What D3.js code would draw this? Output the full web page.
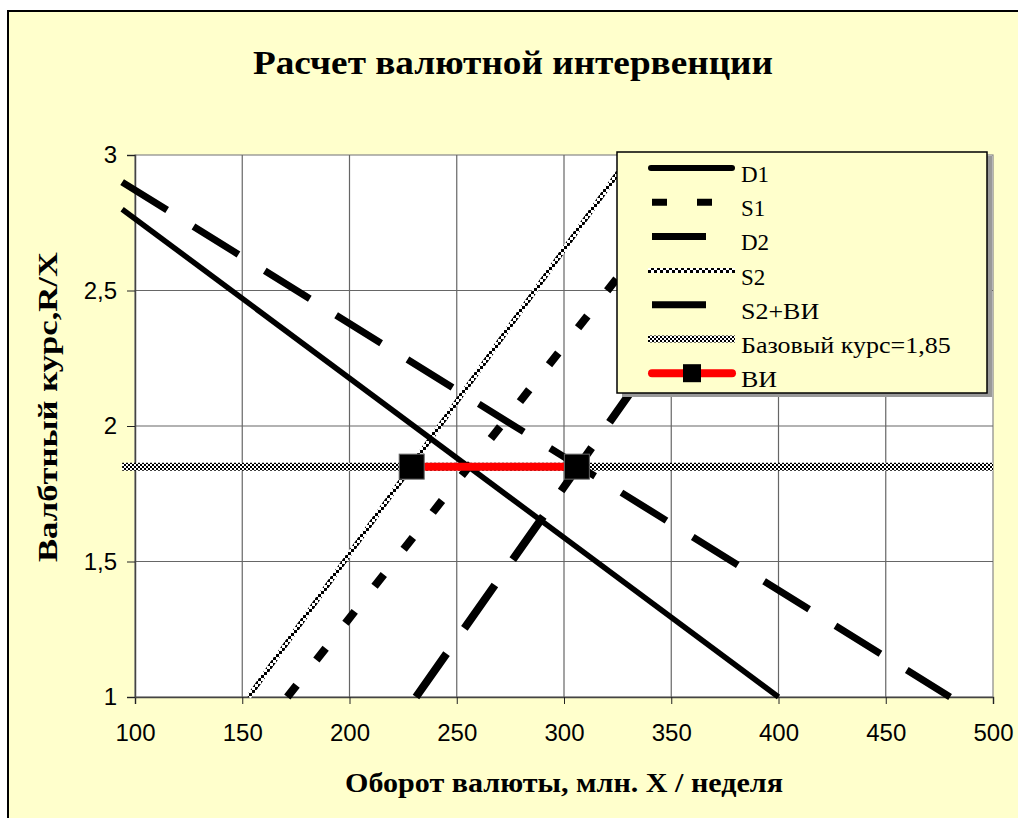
<!DOCTYPE html>
<html><head><meta charset="utf-8">
<script src="https://cdn.jsdelivr.net/npm/d3@7"></script>
<style>html,body{margin:0;padding:0;background:#fff;}svg{display:block;}</style>
</head><body>
<script>
// ---- data ----
const title = "Расчет валютной интервенции";
const xTitle = "Оборот валюты, млн. X / неделя";
const yTitle = "Валбтный курс,R/X";
const xTicks = [100,150,200,250,300,350,400,450,500];
const yTicks = [1,1.5,2,2.5,3];
const yTickLabels = ["1","1,5","2","2,5","3"];
const D1 = [[94,2.80],[400,1]];
const S1 = [[171,1],[370,3]];
const D2 = [[94,2.90],[480,1]];
const S2 = [[153,1],[331,3]];
const S2VI = [[231,1],[409,3]];
const BASE = [[94,1.85],[500,1.85]];
const VI = [[229,1.85],[306,1.85]];
const legendNames = ["D1","S1","D2","S2","S2+ВИ","Базовый курс=1,85","ВИ"];

const W=1018,H=818;
const svg=d3.select("body").append("svg").attr("width",W).attr("height",H);
const defs=svg.append("defs");
function checker(id,c){
  const p=defs.append("pattern").attr("id",id).attr("patternUnits","userSpaceOnUse").attr("width",2*c).attr("height",2*c);
  p.append("rect").attr("width",2*c).attr("height",2*c).attr("fill","#fff");
  p.append("rect").attr("width",c).attr("height",c).attr("fill","#000");
  p.append("rect").attr("x",c).attr("y",c).attr("width",c).attr("height",c).attr("fill","#000");
}
checker("chk",2);
checker("chk3",3);

svg.append("rect").attr("x",8).attr("y",11).attr("width",1040).attr("height",840)
  .attr("fill","#FFFFCC").attr("stroke","#000").attr("stroke-width",2);

const L=135,R=993,T=155,B=697;
const x=d3.scaleLinear().domain([100,500]).range([L,R]);
const y=d3.scaleLinear().domain([1,3]).range([B,T]);

svg.append("rect").attr("x",L).attr("y",T).attr("width",R-L).attr("height",B-T).attr("fill","#fff")
  .attr("stroke","#888").attr("stroke-width",1.2);
// grid
svg.append("g").selectAll("line").data(xTicks.slice(1,-1)).join("line")
  .attr("x1",d=>x(d)).attr("x2",d=>x(d)).attr("y1",T).attr("y2",B).attr("stroke","#666").attr("stroke-width",1.2);
svg.append("g").selectAll("line").data(yTicks.slice(1,-1)).join("line")
  .attr("y1",d=>y(d)).attr("y2",d=>y(d)).attr("x1",L).attr("x2",R).attr("stroke","#666").attr("stroke-width",1.2);

// axes
const xAxis=d3.axisBottom(x).tickValues(xTicks).tickSize(7).tickPadding(20).tickFormat(d3.format("d"));
const gx=svg.append("g").attr("transform",`translate(0,${B})`).call(xAxis);
gx.select(".domain").attr("stroke","#444").attr("stroke-width",1.5);
gx.selectAll(".tick line").attr("stroke","#222");
gx.selectAll("text").attr("font-family","'Liberation Sans',Arial,sans-serif").attr("font-size",24).attr("fill","#000");
const yAxis=d3.axisLeft(y).tickValues(yTicks).tickSize(8).tickPadding(10).tickFormat((d,i)=>yTickLabels[i]);
const gy=svg.append("g").attr("transform",`translate(${L},0)`).call(yAxis);
gy.select(".domain").attr("stroke","#444").attr("stroke-width",1.5);
gy.selectAll(".tick line").attr("stroke","#222");
gy.selectAll("text").attr("font-family","'Liberation Sans',Arial,sans-serif").attr("font-size",24).attr("fill","#000");

const line=d3.line().x(d=>x(d[0])).y(d=>y(d[1]));
const styles=[
  {data:BASE, stroke:"url(#chk)", w:8, dash:null, cap:"butt"},
  {data:S2, stroke:"url(#chk3)", w:5, dash:null, cap:"butt"},
  {data:D1, stroke:"#000", w:5.5, dash:null, cap:"butt"},
  {data:S1, stroke:"#000", w:8, dash:"15,32", cap:"butt"},
  {data:D2, stroke:"#000", w:7, dash:"53,31", cap:"butt"},
  {data:S2VI, stroke:"#000", w:8, dash:"53,31", cap:"butt"},
  {data:VI, stroke:"#ff0000", w:8, dash:null, cap:"butt"}
];
styles.forEach(s=>{
  svg.append("path").attr("d",line(s.data)).attr("fill","none").attr("stroke",s.stroke)
    .attr("stroke-width",s.w).attr("stroke-dasharray",s.dash).attr("stroke-linecap",s.cap);
});
svg.append("g").selectAll("rect").data(VI).join("rect")
  .attr("x",d=>x(d[0])-12.5).attr("y",d=>y(d[1])-12.5).attr("width",25).attr("height",25)
  .attr("fill","#000").attr("stroke","#666").attr("stroke-width",1);

// legend
const lg=svg.append("g");
lg.append("rect").attr("x",622).attr("y",156).attr("width",370).attr("height",241).attr("fill","#999");
lg.append("rect").attr("x",617).attr("y",152).attr("width",370).attr("height",241).attr("fill","#FFFFCC").attr("stroke","#000").attr("stroke-width",1.5);
const ly0=168,ldy=34.2;
const legStyles=[
  {stroke:"#000",w:6,dash:null,cap:"round",x1:651,x2:732},
  {stroke:"#000",w:7,dash:"15,30",cap:"butt",x1:652,x2:735},
  {stroke:"#000",w:7,dash:"54,40",cap:"butt",x1:652,x2:735},
  {stroke:"url(#chk3)",w:5,dash:null,cap:"butt",x1:648,x2:735},
  {stroke:"#000",w:7,dash:"54,40",cap:"butt",x1:652,x2:735},
  {stroke:"url(#chk)",w:7,dash:null,cap:"butt",x1:648,x2:735},
  {stroke:"#ff0000",w:8,dash:null,cap:"round",x1:652,x2:732}
];
legendNames.forEach((n,i)=>{
  const yy=ly0+i*ldy, s=legStyles[i];
  lg.append("line").attr("x1",s.x1).attr("x2",s.x2).attr("y1",yy).attr("y2",yy)
    .attr("stroke",s.stroke).attr("stroke-width",s.w).attr("stroke-dasharray",s.dash).attr("stroke-linecap",s.cap);
  if(i===6) lg.append("rect").attr("x",683).attr("y",yy-9).attr("width",18).attr("height",18).attr("fill","#000");
  const t=lg.append("text").attr("x",741).attr("y",yy+14).text(n)
    .attr("font-family","'Liberation Serif','Times New Roman',serif").attr("font-size",23).attr("fill","#000");
  if(/[А-яЁё]/.test(n)){
    const len=t.node().getComputedTextLength();
    t.attr("textLength",len*1.13).attr("lengthAdjust","spacingAndGlyphs");
  }
});

// titles
svg.append("text").attr("x",513).attr("y",74).attr("text-anchor","middle").text(title)
  .attr("font-family","'Liberation Serif','Times New Roman',serif").attr("font-weight","bold").attr("font-size",34)
  .attr("textLength",520).attr("lengthAdjust","spacingAndGlyphs");
svg.append("text").attr("x",564).attr("y",792).attr("text-anchor","middle").text(xTitle)
  .attr("font-family","'Liberation Serif','Times New Roman',serif").attr("font-weight","bold").attr("font-size",27)
  .attr("textLength",438).attr("lengthAdjust","spacingAndGlyphs");
svg.append("text").attr("transform","translate(57,407) rotate(-90)").attr("text-anchor","middle").text(yTitle)
  .attr("font-family","'Liberation Serif','Times New Roman',serif").attr("font-weight","bold").attr("font-size",27)
  .attr("textLength",310).attr("lengthAdjust","spacingAndGlyphs");
</script>
</body></html>
